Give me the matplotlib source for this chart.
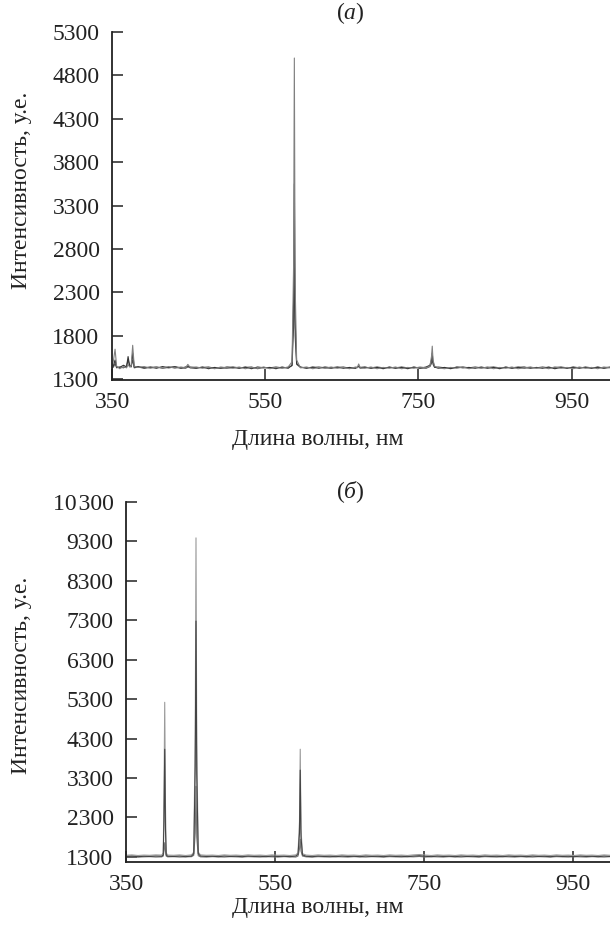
import matplotlib
matplotlib.use("Agg")
import matplotlib.pyplot as plt
from matplotlib.ticker import FixedLocator

plt.rcParams["font.family"] = ["Liberation Serif", "DejaVu Serif"]
plt.rcParams["mathtext.fontset"] = "custom"
plt.rcParams["mathtext.it"] = "Liberation Serif:italic"
plt.rcParams["mathtext.rm"] = "Liberation Serif"

# ---- panel (a): wavelengths, nm
WL_A = [
    350, 352, 354, 356, 360, 365, 369, 371, 373, 375,
    377, 379, 384, 392, 400, 408, 416, 424, 432, 440,
    446, 449, 452, 460, 468, 476, 484, 492, 500, 508,
    516, 524, 532, 540, 548, 556, 564, 572, 580, 585,
    587, 588, 589, 591, 596, 604, 612, 620, 628, 636,
    644, 652, 660, 668, 670, 672, 674, 680, 688, 696,
    704, 712, 720, 728, 736, 744, 752, 760, 765, 767,
    768, 769, 771, 776, 784, 792, 800, 808, 816, 824,
    832, 840, 848, 856, 864, 872, 880, 888, 896, 904,
    912, 920, 928, 936, 944, 952, 960, 968, 976, 984,
    992, 1000,
]
A1 = [
    1440, 1520, 1645, 1450, 1420, 1445, 1430, 1470, 1440, 1450,
    1690, 1450, 1435, 1445, 1425, 1440, 1430, 1445, 1425, 1440,
    1430, 1470, 1435, 1440, 1425, 1435, 1420, 1440, 1430, 1425,
    1440, 1420, 1435, 1425, 1440, 1420, 1435, 1425, 1440, 1500,
    2600, 5000, 2400, 1520, 1430, 1440, 1420, 1435, 1425, 1440,
    1425, 1435, 1420, 1440, 1430, 1475, 1430, 1425, 1440, 1420,
    1435, 1425, 1440, 1420, 1435, 1425, 1440, 1430, 1450, 1560,
    1680, 1520, 1450, 1430, 1420, 1435, 1425, 1440, 1420, 1435,
    1425, 1440, 1420, 1435, 1425, 1440, 1420, 1430, 1440, 1425,
    1435, 1420, 1440, 1425, 1435, 1420, 1440, 1425, 1435, 1420,
    1440, 1430,
]
A2 = [
    1425, 1460, 1520, 1440, 1435, 1460, 1440, 1560, 1450, 1440,
    1600, 1440, 1445, 1430, 1440, 1425, 1445, 1430, 1440, 1425,
    1440, 1450, 1430, 1425, 1440, 1420, 1435, 1425, 1440, 1435,
    1425, 1440, 1420, 1440, 1430, 1435, 1420, 1440, 1425, 1460,
    2200, 3550, 2000, 1480, 1440, 1425, 1440, 1425, 1440, 1430,
    1440, 1425, 1435, 1425, 1440, 1450, 1435, 1440, 1425, 1435,
    1420, 1440, 1425, 1435, 1420, 1440, 1425, 1440, 1460, 1520,
    1600, 1500, 1440, 1425, 1435, 1420, 1440, 1430, 1435, 1425,
    1440, 1425, 1435, 1420, 1440, 1425, 1435, 1440, 1425, 1435,
    1425, 1440, 1420, 1435, 1425, 1440, 1430, 1435, 1425, 1440,
    1425, 1435,
]
A3 = [
    1430, 1440, 1480, 1430, 1440, 1430, 1450, 1520, 1460, 1445,
    1520, 1430, 1440, 1425, 1435, 1440, 1425, 1435, 1445, 1430,
    1425, 1440, 1440, 1430, 1435, 1440, 1425, 1430, 1425, 1440,
    1430, 1435, 1440, 1420, 1435, 1430, 1440, 1430, 1435, 1455,
    1900, 2850, 1800, 1470, 1435, 1430, 1435, 1440, 1430, 1425,
    1435, 1440, 1425, 1430, 1435, 1445, 1425, 1435, 1430, 1440,
    1430, 1435, 1430, 1440, 1430, 1435, 1430, 1425, 1445, 1480,
    1540, 1470, 1435, 1440, 1430, 1425, 1435, 1440, 1430, 1440,
    1430, 1435, 1440, 1430, 1435, 1430, 1440, 1425, 1435, 1430,
    1440, 1430, 1435, 1440, 1430, 1435, 1425, 1440, 1430, 1435,
    1430, 1440,
]

# ---- panel (б)
WL_B = [
    350, 358, 366, 374, 382, 390, 398, 400, 401, 402,
    403, 404, 406, 414, 422, 430, 438, 441, 443, 444,
    445, 447, 450, 458, 466, 474, 482, 490, 498, 506,
    514, 522, 530, 538, 546, 554, 562, 570, 578, 581,
    583, 584, 585, 587, 592, 600, 608, 616, 624, 632,
    640, 648, 656, 664, 672, 680, 688, 696, 704, 712,
    720, 728, 736, 744, 752, 760, 768, 776, 784, 792,
    800, 808, 816, 824, 832, 840, 848, 856, 864, 872,
    880, 888, 896, 904, 912, 920, 928, 936, 944, 952,
    960, 968, 976, 984, 992, 1000,
]
B1 = [
    1340, 1350, 1335, 1345, 1340, 1350, 1345, 1400, 2800, 5220,
    2600, 1400, 1345, 1340, 1350, 1335, 1350, 1420, 4500, 9390,
    4200, 1420, 1350, 1340, 1345, 1335, 1350, 1340, 1345, 1335,
    1350, 1340, 1345, 1335, 1350, 1340, 1345, 1335, 1350, 1400,
    2200, 4030, 2000, 1380, 1345, 1335, 1350, 1340, 1345, 1335,
    1350, 1340, 1345, 1335, 1350, 1340, 1345, 1335, 1350, 1340,
    1345, 1335, 1350, 1360, 1345, 1335, 1350, 1340, 1345, 1335,
    1350, 1340, 1345, 1335, 1350, 1340, 1345, 1335, 1350, 1340,
    1345, 1335, 1350, 1340, 1345, 1335, 1350, 1340, 1345, 1335,
    1350, 1340, 1345, 1335, 1350, 1340,
]
B2 = [
    1310, 1320, 1305, 1315, 1310, 1320, 1315, 1350, 2200, 4030,
    2000, 1350, 1315, 1310, 1320, 1305, 1320, 1380, 3600, 7280,
    3400, 1380, 1320, 1310, 1315, 1305, 1320, 1310, 1315, 1305,
    1320, 1310, 1315, 1305, 1320, 1310, 1315, 1305, 1320, 1360,
    1900, 3500, 1800, 1350, 1315, 1305, 1320, 1310, 1315, 1305,
    1320, 1310, 1315, 1305, 1320, 1310, 1315, 1305, 1320, 1310,
    1315, 1305, 1320, 1330, 1315, 1305, 1320, 1310, 1315, 1305,
    1320, 1310, 1315, 1305, 1320, 1310, 1315, 1305, 1320, 1310,
    1315, 1305, 1320, 1310, 1315, 1305, 1320, 1310, 1315, 1305,
    1320, 1310, 1315, 1305, 1320, 1310,
]
B3 = [
    1300, 1305, 1295, 1300, 1305, 1295, 1300, 1320, 1450, 1660,
    1440, 1320, 1300, 1305, 1295, 1300, 1305, 1340, 1900, 3090,
    1800, 1330, 1300, 1295, 1305, 1300, 1295, 1305, 1300, 1295,
    1305, 1300, 1295, 1305, 1300, 1295, 1305, 1300, 1295, 1320,
    1500, 1750, 1450, 1320, 1300, 1295, 1305, 1300, 1295, 1305,
    1300, 1295, 1305, 1300, 1295, 1305, 1300, 1295, 1305, 1300,
    1295, 1305, 1300, 1310, 1295, 1305, 1300, 1295, 1305, 1300,
    1295, 1305, 1300, 1295, 1305, 1300, 1295, 1305, 1300, 1295,
    1305, 1300, 1295, 1305, 1300, 1295, 1305, 1300, 1295, 1305,
    1300, 1295, 1305, 1300, 1295, 1305,
]

X_TICKS = [350, 550, 750, 950]
Y_TICKS_A = [1300, 1800, 2300, 2800, 3300, 3800, 4300, 4800, 5300]
Y_TICKS_B = [1300, 2300, 3300, 4300, 5300, 6300, 7300, 8300, 9300, 10300]
Y_LABELS_B = [str(v) if v < 10000 else "10\u200a300" for v in Y_TICKS_B]

for a, b in [(WL_A, A1), (WL_A, A2), (WL_A, A3), (WL_B, B1), (WL_B, B2), (WL_B, B3)]:
    assert len(a) == len(b)

FS = 17
INK = "#222222"
fig = plt.figure(figsize=(6.10, 9.32), dpi=100)
ax_a = fig.add_axes([112 / 610, 1 - 380 / 932, 1 - 112 / 610, (380 - 32) / 932])
ax_b = fig.add_axes([126 / 610, 1 - 862 / 932, 1 - 126 / 610, (862 - 502) / 932])


def style(ax, yticks, ylabels=None):
    for s in ("top", "right"):
        ax.spines[s].set_visible(False)
    for s in ("left", "bottom"):
        ax.spines[s].set_linewidth(1.3)
        ax.spines[s].set_color(INK)
    ax.set_xlim(350, 1000)
    ax.xaxis.set_major_locator(FixedLocator(X_TICKS))
    ax.set_yticks(yticks)
    if ylabels is not None:
        ax.set_yticklabels(ylabels)
    ax.tick_params(direction="in", length=8, width=1.1, labelsize=FS,
                   colors=INK, labelcolor=INK)
    ax.tick_params(axis="x", pad=9)
    ax.tick_params(axis="y", pad=9)


ax_a.plot(WL_A, A3, color="#555555", lw=0.8)
ax_a.plot(WL_A, A2, color="#333333", lw=0.8)
ax_a.plot(WL_A, A1, color="#808080", lw=0.8)
ax_a.set_ylim(1290, 5300)
style(ax_a, Y_TICKS_A)

ax_b.plot(WL_B, B1, color="#9a9a9a", lw=0.8)
ax_b.plot(WL_B, B3, color="#777777", lw=0.8)
ax_b.plot(WL_B, B2, color="#444444", lw=0.8)
ax_b.set_ylim(1170, 10300)
style(ax_b, Y_TICKS_B, Y_LABELS_B)

# axis titles placed in figure pixels, as in the source layout
for ymid in (190, 675):
    fig.text(22 / 610, 1 - ymid / 932, "Интенсивность, у.е.", fontsize=FS,
             rotation=90, ha="center", va="center", color=INK)
for ymid in (440, 908):
    fig.text(318 / 610, 1 - ymid / 932, "Длина волны, нм", fontsize=FS,
             ha="center", va="center", color=INK)

fig.text(350 / 610, 1 - 13 / 932, r"($\mathit{а}$)", fontsize=FS,
         ha="center", va="center", color=INK)
fig.text(350 / 610, 1 - 492 / 932, r"($\mathit{б}$)", fontsize=FS,
         ha="center", va="center", color=INK)

fig.savefig("out.png", dpi=100)
